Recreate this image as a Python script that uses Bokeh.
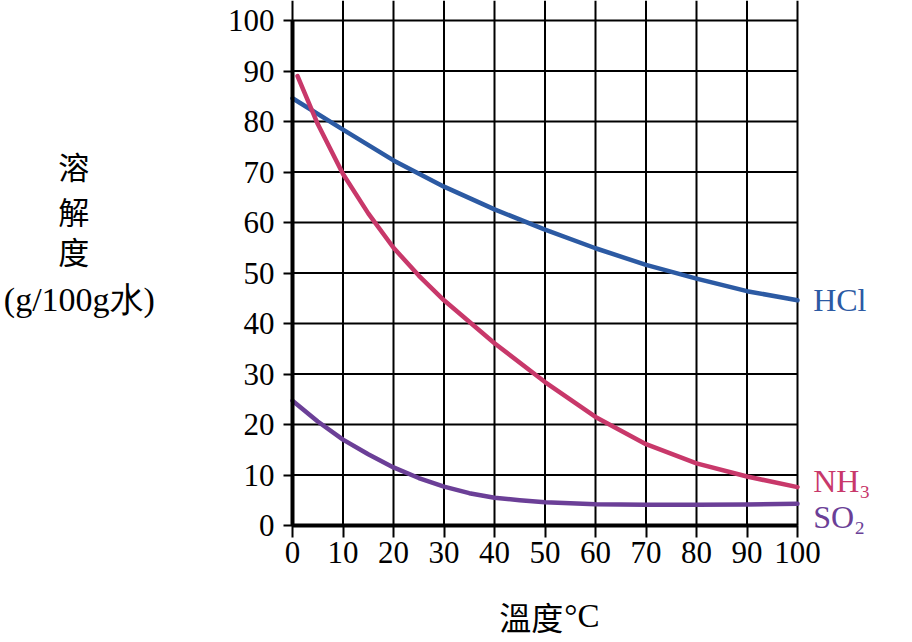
from bokeh.plotting import figure
from bokeh.models import Range1d, FixedTicker, Label
from bokeh.embed import file_html
from bokeh.resources import INLINE

# ---- data ----
temps = [0, 10, 20, 30, 40, 50, 60, 70, 80, 90, 100]
hcl = [84.6, 78.4, 72.3, 67.1, 62.6, 58.6, 54.9, 51.6, 48.9, 46.4, 44.6]
nh3_temps = [1, 5, 10, 15, 20, 25, 30, 40, 50, 60, 70, 80, 90, 100]
nh3 = [89.0, 79.5, 69.6, 61.8, 55.0, 49.5, 44.6, 36.1, 28.4, 21.5, 16.1, 12.3, 9.7, 7.6]
so2_temps = [0, 5, 10, 15, 20, 25, 30, 35, 40, 45, 50, 60, 70, 80, 90, 100]
so2 = [24.7, 20.6, 17.0, 14.1, 11.5, 9.4, 7.7, 6.4, 5.5, 5.0, 4.6, 4.2, 4.1, 4.1, 4.15, 4.3]

x_ticks = [0, 10, 20, 30, 40, 50, 60, 70, 80, 90, 100]
y_ticks = [0, 10, 20, 30, 40, 50, 60, 70, 80, 90, 100]

series_names = ["HCl", "NH\u2083", "SO\u2082"]
colors = ["#2c5aa3", "#c8386a", "#6b3f97"]

SERIF = "Liberation Serif"
CJK = "Noto Sans CJK TC"

W, H = 896, 640
X0PX, Y0PX, SCALE = 292, 525, 5.05   # frame geometry (pixels)

p = figure(width=W, height=H, output_backend="svg", toolbar_location=None,
           x_range=Range1d(-X0PX / SCALE, (W - X0PX) / SCALE),
           y_range=Range1d((Y0PX - H) / SCALE, Y0PX / SCALE))
p.min_border = 0
p.outline_line_color = None
p.background_fill_color = "white"
p.border_fill_color = "white"
p.grid.grid_line_color = None

y_top = Y0PX / SCALE

# grid lines, drawn from the tick arrays
p.segment(x0=x_ticks, y0=[0] * len(x_ticks), x1=x_ticks, y1=[y_top] * len(x_ticks),
          line_color="black", line_width=2)
p.segment(x0=[0] * len(y_ticks), y0=y_ticks, x1=[100] * len(y_ticks), y1=y_ticks,
          line_color="black", line_width=2)

# axes at fixed data locations
p.xaxis.fixed_location = 0
p.yaxis.fixed_location = 0
p.xaxis.bounds = (0, 100)
p.yaxis.bounds = (0, 100)
p.xaxis.ticker = FixedTicker(ticks=x_ticks)
p.yaxis.ticker = FixedTicker(ticks=y_ticks)
for ax in (p.xaxis, p.yaxis):
    ax.axis_line_color = "black"
    ax.axis_line_width = 4
    ax.major_tick_line_color = "black"
    ax.major_tick_line_width = 2
    ax.major_tick_in = 0
    ax.minor_tick_line_color = None
    ax.major_label_text_font = SERIF
    ax.major_label_text_font_size = "31px"
    ax.major_label_text_color = "black"
p.xaxis.major_tick_out = 12
p.xaxis.major_label_standoff = 4
p.yaxis.major_tick_out = 9
p.yaxis.major_label_standoff = 9

# curves
p.line(temps, hcl, line_color=colors[0], line_width=4.5, line_join="round", line_cap="round")
p.line(nh3_temps, nh3, line_color=colors[1], line_width=4.5, line_join="round", line_cap="round")
p.line(so2_temps, so2, line_color=colors[2], line_width=4.5, line_join="round", line_cap="round")

# series labels at the right end of each curve
ends = [hcl[-1], nh3[-1] + 1.3, so2[-1] - 2.7]
for name, yv, c in zip(series_names, ends, colors):
    p.add_layout(Label(x=temps[-1] + 3.1, y=yv, text=name, text_color=c,
                       text_font=SERIF, text_font_size="32px",
                       text_baseline="middle", text_align="left"))

# y axis title (stacked characters)
for ch, yy in zip(["溶", "解", "度"], [71.3, 62.4, 54.4]):
    p.add_layout(Label(x=-43.3, y=yy, text=ch, text_font=CJK, text_font_size="31px",
                       text_color="black", text_align="center", text_baseline="middle"))
p.add_layout(Label(x=-42.2, y=44.8, text="(g/100g水)", text_font=SERIF,
                   text_font_size="34px", text_color="black",
                   text_align="center", text_baseline="middle"))

# x axis title
p.add_layout(Label(x=53.6, y=-18.0, text="溫度", text_font=CJK, text_font_size="32px",
                   text_color="black", text_align="right", text_baseline="middle"))
p.add_layout(Label(x=53.8, y=-18.0, text="°C", text_font=SERIF, text_font_size="33px",
                   text_color="black", text_align="left", text_baseline="middle"))

open("out.html", "w").write(file_html(p, INLINE))
